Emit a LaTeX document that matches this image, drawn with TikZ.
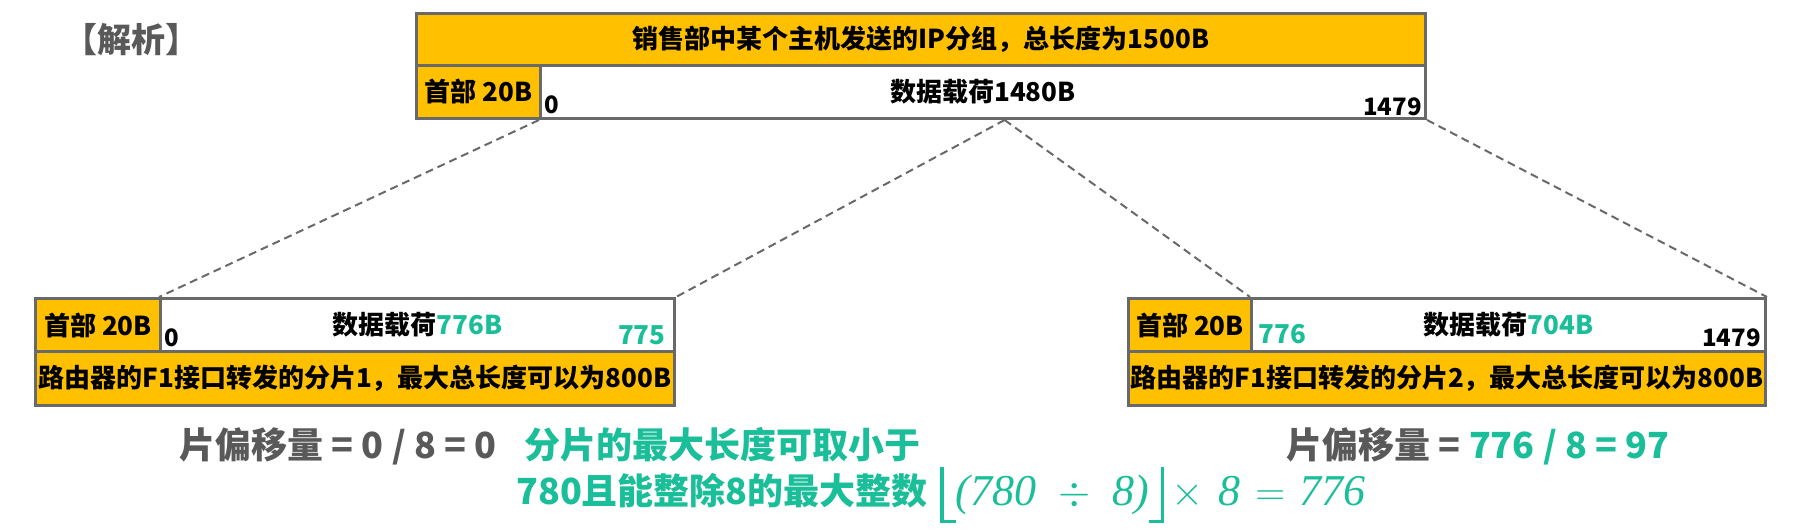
\documentclass[tikz,border=0pt]{standalone}
\usepackage{fontspec}
\usepackage{xcolor}
\usepackage{tikz}
\usepackage{amsmath}
\newfontfamily\cjkfont{Noto Sans CJK SC}
\newfontfamily\formfont{Liberation Serif}
\definecolor{fragorange}{RGB}{255, 192, 0}
\definecolor{fraggray}{RGB}{105, 105, 105}
\definecolor{fragteal}{RGB}{26, 190, 152}
\definecolor{fragtext}{RGB}{89, 89, 89}
\newcommand{\floorL}{\rule[-9pt]{1.6pt}{28pt}\rule[-9pt]{6pt}{1.6pt}}
\newcommand{\floorR}{\rule[-9pt]{6pt}{1.6pt}\rule[-9pt]{1.6pt}{28pt}}
\usetikzlibrary{positioning,calc}

\begin{document}
\begin{tikzpicture}[x=0.5pt, y=-0.5pt]
    \tikzstyle{fragcell} = [rectangle, draw=fraggray, line width=1.5pt, inner sep=0pt, anchor=north west,
                            font=\cjkfont\bfseries\fontsize{13}{13}\selectfont]
    \tikzstyle{hdr} = [fragcell, fill=fragorange]
    \tikzstyle{payload} = [fragcell, fill=white]
    \tikzstyle{idx} = [inner sep=0pt, font=\cjkfont\bfseries\fontsize{12}{12}\selectfont]
    \tikzstyle{idxg} = [idx, text=fragteal, font=\cjkfont\bfseries\fontsize{13}{13}\selectfont]
    \tikzstyle{cutline} = [draw=fraggray, line width=1pt, dash pattern=on 4pt off 2.5pt]
    \tikzstyle{note} = [inner sep=0pt, font=\cjkfont\bfseries\fontsize{18}{23}\selectfont]

    \useasboundingbox (0,0) rectangle (1809,530);

    \node[inner sep=0pt, text=fragtext, font=\cjkfont\bfseries\fontsize{17}{17}\selectfont] (title) at (131,40) {【解析】};

    % Original packet
    \node[hdr, minimum width=504.5pt, minimum height=26pt] (pkt) at (415,12) {销售部中某个主机发送的IP分组，总长度为1500B};
    \node[hdr, minimum width=62pt, minimum height=26.5pt] (pkthdr) at (415,64) {首部 20B};
    \node[payload, minimum width=442.5pt, minimum height=26.5pt] (pktdata) at (539,64) {数据载荷1480B};
    \node[idx, anchor=base west] (pktfirst) at ([shift={(2.5pt,3.5pt)}]pktdata.south west) {0};
    \node[idx, anchor=base east] (pktlast) at ([shift={(-2.5pt,2.5pt)}]pktdata.south east) {1479};

    % Fragment 1
    \node[hdr, minimum width=62.5pt, minimum height=26.5pt] (f1hdr) at (34,297) {首部 20B};
    \node[payload, minimum width=257pt, minimum height=26.5pt] (f1data) at (159,297) {数据载荷\textcolor{fragteal}{776B}};
    \node[hdr, minimum width=319.5pt, minimum height=27pt] (f1info) at (34,350) {路由器的F1接口转发的分片1，最大总长度可以为800B};
    \node[idx, anchor=base west] (f1first) at ([shift={(2.5pt,3.5pt)}]f1data.south west) {0};
    \node[idxg, anchor=base east] (f1last) at ([shift={(-5pt,4.5pt)}]f1data.south east) {775};

    % Fragment 2
    \node[hdr, minimum width=61.5pt, minimum height=26.5pt] (f2hdr) at (1127,297) {首部 20B};
    \node[payload, minimum width=257pt, minimum height=26.5pt] (f2data) at (1250,297) {数据载荷\textcolor{fragteal}{704B}};
    \node[hdr, minimum width=318.5pt, minimum height=27pt] (f2info) at (1127,350) {路由器的F1接口转发的分片2，最大总长度可以为800B};
    \node[idxg, anchor=base west] (f2first) at ([shift={(4pt,5pt)}]f2data.south west) {776};
    \node[idx, anchor=base east] (f2last) at ([shift={(-3pt,3.5pt)}]f2data.south east) {1479};

    % Connections
    \coordinate (cut) at ($(pktdata.south west)!0.5243!(pktdata.south east)$);
    \draw[cutline] (pktdata.south west) -- (f1data.north west);
    \draw[cutline] (cut) -- (f1data.north east);
    \draw[cutline] (cut) -- (f2data.north west);
    \draw[cutline] (pktdata.south east) -- (f2data.north east);

    % Offsets
    \node[note, text=fragtext, anchor=base] (off1) at (338,458) {片偏移量 = 0 / 8 = 0};
    \node[note, text=fragtext, anchor=base] (off2) at (1478,458) {片偏移量 = \textcolor{fragteal}{776 / 8 = 97}};
    \node[note, text=fragteal, align=center] (rule) at (722,468) {分片的最大长度可取小于\\780且能整除8的最大整数};
    \node[inner sep=0pt, text=fragteal, anchor=base west, font=\formfont\itshape\fontsize{22}{22}\selectfont] (calc)
        at (940,505) {\floorL(780\,\,\,$\div$\,\,\,8)\floorR\,$\times$\,\,8\,\,$=$\,\,776};
\end{tikzpicture}
\end{document}
